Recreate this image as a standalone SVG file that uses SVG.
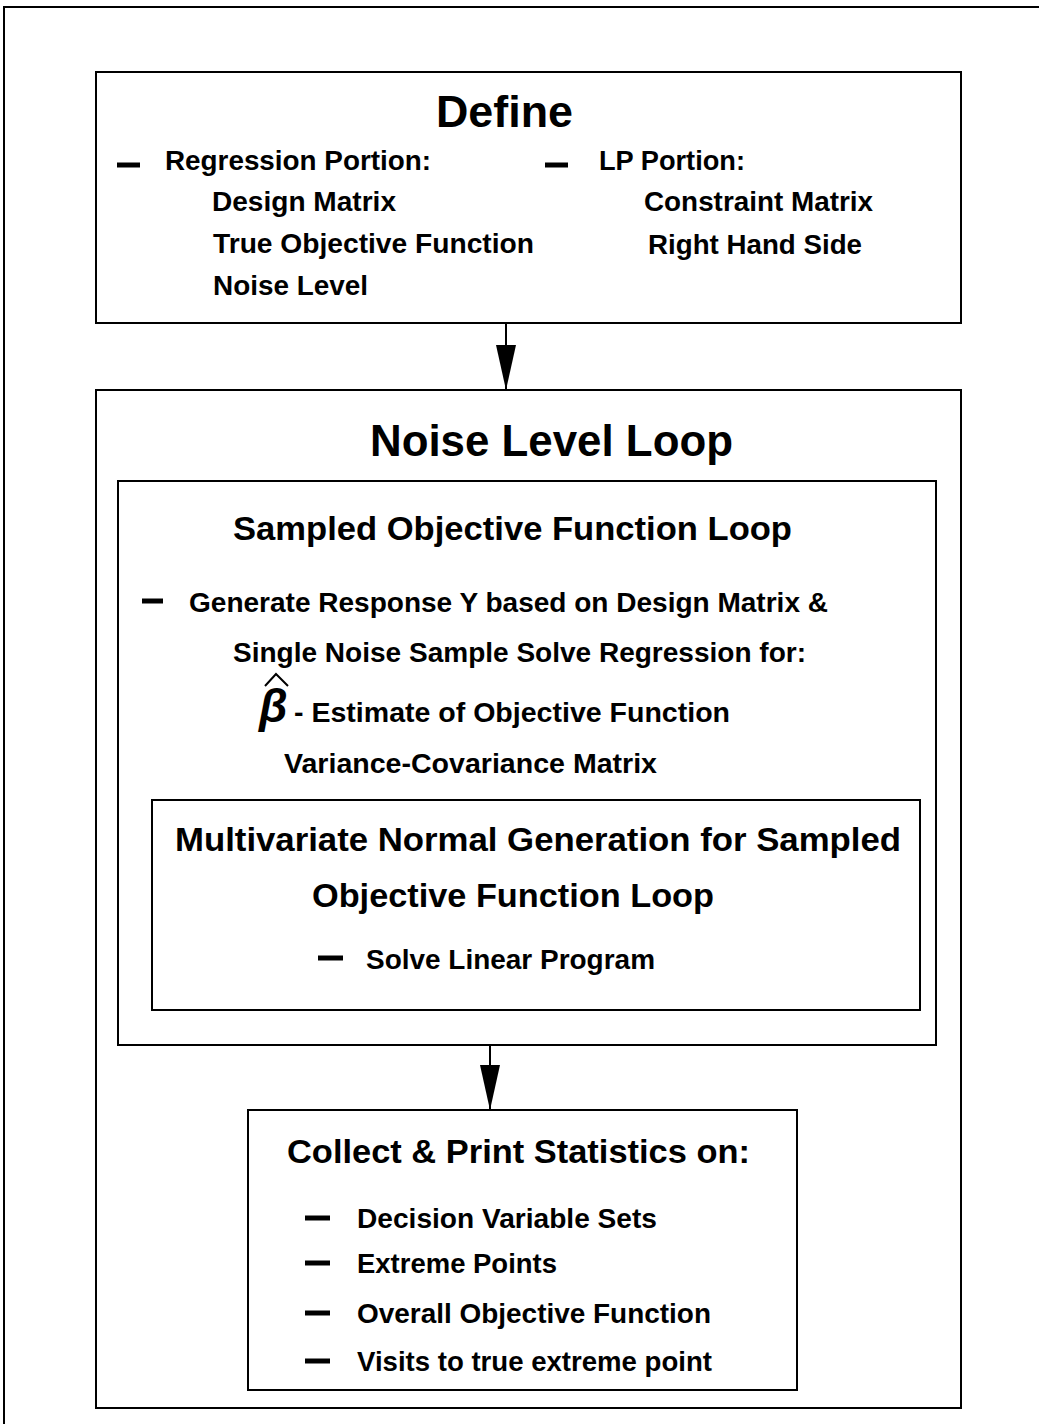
<svg xmlns="http://www.w3.org/2000/svg" width="1039" height="1424" viewBox="0 0 1039 1424">
<style>
.box{fill:none;stroke:#000;stroke-width:2}
text{font-family:"Liberation Sans",Arial,sans-serif;font-weight:bold;fill:#000}
.h1{font-size:44px}
.h2{font-size:34px}
.t{font-size:27px}
.dash{stroke:#000;stroke-width:5}
.conn{stroke:#000;stroke-width:2;fill:none}
</style>
<defs>
<marker id="arr" markerWidth="46" markerHeight="20" refX="45" refY="10" orient="auto" markerUnits="userSpaceOnUse" viewBox="0 0 46 20">
<path d="M0,0 L45,10 L0,20 Z" fill="#000"/>
</marker>
</defs>
<rect width="1039" height="1424" fill="#fff"/>
<path d="M4,1424 V7 H1039" class="box"/>
<g id="define">
<rect x="96" y="72" width="865" height="251" class="box"/>
<text x="436" y="127" class="h1" textLength="137" lengthAdjust="spacingAndGlyphs">Define</text>
<line x1="117" y1="165" x2="140" y2="165" class="dash"/>
<text x="165" y="170" class="t" textLength="266" lengthAdjust="spacingAndGlyphs">Regression Portion:</text>
<text x="212" y="211" class="t" textLength="184" lengthAdjust="spacingAndGlyphs">Design Matrix</text>
<text x="213" y="253" class="t" textLength="321" lengthAdjust="spacingAndGlyphs">True Objective Function</text>
<text x="213" y="295" class="t" textLength="155" lengthAdjust="spacingAndGlyphs">Noise Level</text>
<line x1="545" y1="165" x2="568" y2="165" class="dash"/>
<text x="599" y="170" class="t" textLength="146" lengthAdjust="spacingAndGlyphs">LP Portion:</text>
<text x="644" y="211" class="t" textLength="229" lengthAdjust="spacingAndGlyphs">Constraint Matrix</text>
<text x="648" y="254" class="t" textLength="214" lengthAdjust="spacingAndGlyphs">Right Hand Side</text>
</g>
<g id="noise-loop">
<rect x="96" y="390" width="865" height="1018" class="box"/>
<text x="370" y="456" class="h1" textLength="363" lengthAdjust="spacingAndGlyphs">Noise Level Loop</text>
</g>
<g id="sampled-loop">
<rect x="118" y="481" width="818" height="564" class="box"/>
<text x="233" y="540" class="h2" textLength="559" lengthAdjust="spacingAndGlyphs">Sampled Objective Function Loop</text>
<line x1="142" y1="601" x2="163" y2="601" class="dash"/>
<text x="189" y="612" class="t" textLength="639" lengthAdjust="spacingAndGlyphs">Generate Response Y based on Design Matrix &amp;</text>
<text x="233" y="662" class="t" textLength="573" lengthAdjust="spacingAndGlyphs">Single Noise Sample Solve Regression for:</text>
<text x="259" y="722" font-family="DejaVu Sans, sans-serif" font-size="46" font-weight="normal" font-style="italic">β</text>
<path d="M265,686 L276,674 L288,686" class="conn"/>
<text x="294" y="722" class="t" textLength="436" lengthAdjust="spacingAndGlyphs">- Estimate of Objective Function</text>
<text x="284" y="773" class="t" textLength="373" lengthAdjust="spacingAndGlyphs">Variance-Covariance Matrix</text>
</g>
<g id="multivariate">
<rect x="152" y="800" width="768" height="210" class="box"/>
<text x="175" y="851" class="h2" textLength="726" lengthAdjust="spacingAndGlyphs">Multivariate Normal Generation for Sampled</text>
<text x="312" y="907" class="h2" textLength="402" lengthAdjust="spacingAndGlyphs">Objective Function Loop</text>
<line x1="318" y1="958" x2="343" y2="958" class="dash"/>
<text x="366" y="969" class="t" textLength="289" lengthAdjust="spacingAndGlyphs">Solve Linear Program</text>
</g>
<g id="collect">
<rect x="248" y="1110" width="549" height="280" class="box"/>
<text x="287" y="1163" class="h2" textLength="463" lengthAdjust="spacingAndGlyphs">Collect &amp; Print Statistics on:</text>
<line x1="305" y1="1218" x2="330" y2="1218" class="dash"/>
<text x="357" y="1228" class="t" textLength="300" lengthAdjust="spacingAndGlyphs">Decision Variable Sets</text>
<line x1="305" y1="1263" x2="330" y2="1263" class="dash"/>
<text x="357" y="1273" class="t" textLength="200" lengthAdjust="spacingAndGlyphs">Extreme Points</text>
<line x1="305" y1="1313" x2="330" y2="1313" class="dash"/>
<text x="357" y="1323" class="t" textLength="354" lengthAdjust="spacingAndGlyphs">Overall Objective Function</text>
<line x1="305" y1="1361" x2="330" y2="1361" class="dash"/>
<text x="357" y="1371" class="t" textLength="355" lengthAdjust="spacingAndGlyphs">Visits to true extreme point</text>
</g>
<g id="connectors">
<line x1="506" y1="323" x2="506" y2="390" class="conn" marker-end="url(#arr)"/>
<line x1="490" y1="1045" x2="490" y2="1110" class="conn" marker-end="url(#arr)"/>
</g>
</svg>
